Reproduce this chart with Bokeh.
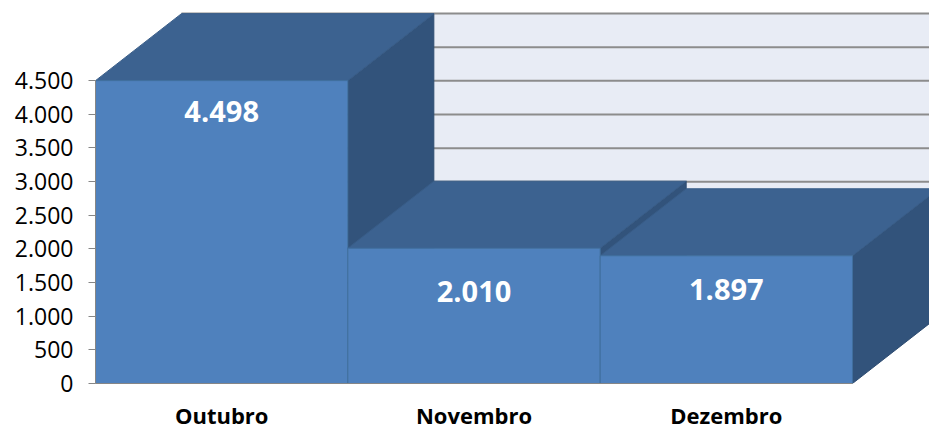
from bokeh.plotting import figure
from bokeh.models import Range1d, FixedTicker, ColumnDataSource
from bokeh.core.properties import value
from bokeh.embed import file_html
from bokeh.resources import INLINE

# ---- data ----
categories = ["Outubro", "Novembro", "Dezembro"]
values = [4498, 2010, 1897]
value_labels = ["4.498", "2.010", "1.897"]
y_ticks = [0, 500, 1000, 1500, 2000, 2500, 3000, 3500, 4000, 4500]
y_tick_labels = ["0", "500", "1.000", "1.500", "2.000", "2.500", "3.000", "3.500", "4.000", "4.500"]

# ---- layout / style constants ----
FRAME_W, FRAME_H = 834, 375
BAR_PX = 252.33          # pixel width of one category
AXIS_MAX = 4500
AXIS_PX = 303            # pixels from 0 to AXIS_MAX
DEPTH_X_PX, DEPTH_Y_PX = 86, 67
LABEL_DROP_PX = [31, 43, 34]

x_end = FRAME_W / BAR_PX
y_end = FRAME_H * AXIS_MAX / AXIS_PX
DX = DEPTH_X_PX / BAR_PX
DY = DEPTH_Y_PX * AXIS_MAX / AXIS_PX

FRONT = "#4F81BD"
TOP = "#3C6290"
SIDE = "#32537B"
WALL = "#E8ECF5"
GRID = "#8C8C8C"
AXIS = "#868686"

p = figure(frame_width=FRAME_W, frame_height=FRAME_H,
           x_range=Range1d(0, x_end), y_range=Range1d(0, y_end),
           output_backend="svg", toolbar_location=None,
           min_border_left=95, min_border_right=0, min_border_top=8, min_border_bottom=45)
p.outline_line_color = None
p.grid.visible = False
p.background_fill_color = "white"
p.border_fill_color = "white"

n = len(categories)

# back wall
p.patch([DX, n + DX, n + DX, DX], [DY, DY, AXIS_MAX + DY, AXIS_MAX + DY],
        fill_color=WALL, line_color=None)
# gridlines on back wall
gx = [[DX, n + DX] for t in y_ticks[1:]]
gy = [[t + DY, t + DY] for t in y_ticks[1:]]
p.multi_line(gx, gy, line_color=GRID, line_width=2)

# bars (painter's order left to right)
for i, v in enumerate(values):
    # side face
    p.patch([i + 1, i + 1 + DX, i + 1 + DX, i + 1], [0, DY, v + DY, v],
            fill_color=SIDE, line_color="#2E4C71", line_width=1)
    # top face
    p.patch([i, i + 1, i + 1 + DX, i + DX], [v, v, v + DY, v + DY],
            fill_color=TOP, line_color="#395D88", line_width=1)
    # front face
    p.patch([i, i + 1, i + 1, i], [0, 0, v, v],
            fill_color=FRONT, line_color="#41709F", line_width=1)

# data labels
src = ColumnDataSource(dict(x=[i + 0.5 for i in range(n)], y=values,
                            t=value_labels, dy=LABEL_DROP_PX))
p.text(x="x", y="y", text="t", y_offset="dy", source=src,
       text_color="white", text_font=value("Open Sans"), text_font_style="bold",
       text_font_size="29px", text_align="center", text_baseline="middle")

# y axis
ya = p.yaxis[0]
ya.ticker = FixedTicker(ticks=y_ticks)
ya.major_label_overrides = {t: l for t, l in zip(y_ticks, y_tick_labels)}
ya.bounds = (0, AXIS_MAX)
ya.axis_line_color = AXIS
ya.major_tick_line_color = AXIS
ya.major_tick_out = 7
ya.major_tick_in = 0
ya.minor_tick_line_color = None
ya.major_label_text_font = "Open Sans"
ya.major_label_text_font_size = "23px"
ya.major_label_text_color = "black"
ya.major_label_standoff = 15

# x axis
xa = p.xaxis[0]
xt = [i + 0.5 for i in range(n)]
xa.ticker = FixedTicker(ticks=xt)
xa.major_label_overrides = {t: c for t, c in zip(xt, categories)}
xa.bounds = (0, n)
xa.axis_line_color = AXIS
xa.major_tick_line_color = None
xa.major_tick_out = 0
xa.major_tick_in = 0
xa.minor_tick_line_color = None
xa.major_label_text_font = "Open Sans"
xa.major_label_text_font_style = "bold"
xa.major_label_text_font_size = "22px"
xa.major_label_text_color = "black"
xa.major_label_standoff = 16

open("out.html", "w").write(file_html(p, INLINE))
